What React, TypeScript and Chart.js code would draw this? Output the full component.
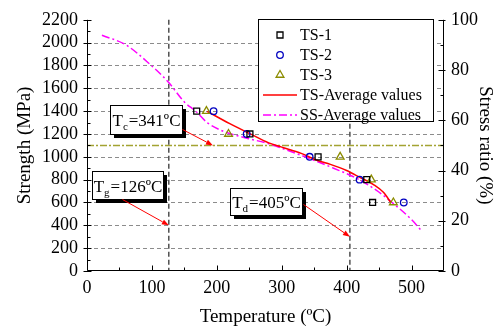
import React, { useEffect, useRef } from 'react';
import { Chart, registerables } from 'chart.js';

Chart.register(...registerables);

const FONT = "'Liberation Serif', 'Times New Roman', serif";
Chart.defaults.font.family = FONT;
Chart.defaults.color = '#000';

// ---- data ----
const xTicks = [0, 100, 200, 300, 400, 500];
const strengthTicks = [0, 200, 400, 600, 800, 1000, 1200, 1400, 1600, 1800, 2000, 2200];
const ratioTicks = [0, 20, 40, 60, 80, 100];

const ts1Temp = [169, 251, 356, 431, 440];
const ts1Strength = [1400, 1200, 1000, 800, 600];
const ts2Temp = [195, 246, 343, 420, 488];
const ts2Strength = [1400, 1200, 1000, 800, 600];
const ts3Temp = [184, 218, 390, 438, 472];
const ts3Strength = [1400, 1200, 1000, 800, 600];

const tsAvgTemp = [185, 220, 250, 280, 300, 330, 354, 375, 400, 421, 442, 457, 468];
const tsAvgStrength = [1398, 1290, 1205, 1122, 1085, 1030, 970, 934, 880, 818, 755, 687, 600];

const ssAvgTemp = [23, 60, 97, 126, 150, 168, 185, 214, 245, 280, 310, 343, 380, 416, 445, 473, 500, 515];
const ssAvgStrength = [2065, 1980, 1810, 1650, 1480, 1397, 1300, 1215, 1165, 1115, 1055, 985, 900, 810, 710, 586, 450, 354];

const seriesLabels = ['TS-1', 'TS-2', 'TS-3', 'TS-Average values', 'SS-Average values'];

const refTemps = [126, 405];
const refStrength = 1100;

const noteSubs = ['c', 'g', 'd'];
const noteTexts = ['=341ºC', '=126ºC', '=405ºC'];
const noteTipTemp = [194, 126, 405];
const noteTipStrength = [1100, 400, 300];

const pts = (xs: number[], ys: number[]) => xs.map((v, i) => ({ x: v, y: ys[i] }));

// ---- drawing helpers ----
function seg(ctx: CanvasRenderingContext2D, x1: number, y1: number, x2: number, y2: number) {
  ctx.beginPath();
  ctx.moveTo(x1, y1);
  ctx.lineTo(x2, y2);
  ctx.stroke();
}

function arrow(ctx: CanvasRenderingContext2D, x1: number, y1: number, x2: number, y2: number) {
  ctx.save();
  ctx.strokeStyle = '#ff0000';
  ctx.fillStyle = '#ff0000';
  ctx.lineWidth = 1;
  ctx.setLineDash([]);
  const ang = Math.atan2(y2 - y1, x2 - x1);
  const len = 7, hw = 2.6;
  const bx = x2 - Math.cos(ang) * len, by = y2 - Math.sin(ang) * len;
  seg(ctx, x1, y1, bx, by);
  ctx.beginPath();
  ctx.moveTo(x2, y2);
  ctx.lineTo(bx + Math.sin(ang) * hw, by - Math.cos(ang) * hw);
  ctx.lineTo(bx - Math.sin(ang) * hw, by + Math.cos(ang) * hw);
  ctx.closePath();
  ctx.fill();
  ctx.restore();
}

function marker(ctx: CanvasRenderingContext2D, style: string, cx: number, cy: number, color: string) {
  ctx.save();
  ctx.strokeStyle = color;
  ctx.lineWidth = 1.3;
  ctx.setLineDash([]);
  ctx.beginPath();
  if (style === 'rect') {
    ctx.rect(cx - 3, cy - 3, 6, 6);
  } else if (style === 'circle') {
    ctx.arc(cx, cy, 3.3, 0, Math.PI * 2);
  } else {
    const r = 4.5;
    ctx.moveTo(cx, cy - r);
    ctx.lineTo(cx - r * 0.866, cy + r * 0.5);
    ctx.lineTo(cx + r * 0.866, cy + r * 0.5);
    ctx.closePath();
  }
  ctx.stroke();
  ctx.restore();
}

// note boxes layout (pixel sizes, anchored in data coords)
const noteLayout = [
  { ax: 36, ay: 1452, w: 72, h: 29, start: (b: any) => [b.r, b.t + 24] },
  { ax: 8, ay: 873, w: 71, h: 28, start: (b: any) => [b.l + 30, b.b] },
  { ax: 220, ay: 723, w: 72, h: 27, start: (b: any) => [b.r + 1, b.t + 16] },
];

const decorPlugin = {
  id: 'decor',
  beforeDatasetsDraw(chart: any) {
    const { ctx, chartArea: a } = chart;
    const x = chart.scales.x, y = chart.scales.y;
    ctx.save();
    ctx.lineWidth = 1;
    ctx.strokeStyle = '#8c8c8c';
    ctx.setLineDash([4, 3]);
    strengthTicks.forEach((v) => {
      if (v <= 0 || v >= 2200) return;
      const py = Math.round(y.getPixelForValue(v)) + 0.5;
      seg(ctx, a.left, py, a.right, py);
    });
    ctx.strokeStyle = '#a3a332';
    ctx.lineWidth = 1.5;
    ctx.setLineDash([7, 2, 2, 2]);
    const ry = y.getPixelForValue(refStrength);
    seg(ctx, a.left, ry, a.right, ry);
    ctx.strokeStyle = '#505050';
    ctx.lineWidth = 1.5;
    ctx.setLineDash([5, 3]);
    refTemps.forEach((t) => {
      const px = x.getPixelForValue(t);
      seg(ctx, px, a.top, px, a.bottom);
    });
    ctx.restore();
  },
  afterDatasetsDraw(chart: any) {
    const { ctx, chartArea: a } = chart;
    const x = chart.scales.x, y = chart.scales.y, y1 = chart.scales.y1;
    const L = Math.round(a.left) + 0.5, R = Math.round(a.right) - 0.5, B = Math.round(a.bottom) - 0.5;
    ctx.save();
    ctx.strokeStyle = '#000';
    ctx.lineWidth = 1;
    ctx.setLineDash([]);
    seg(ctx, L, a.top, L, B);
    seg(ctx, L, B, R, B);
    seg(ctx, R, a.top, R, B);
    xTicks.forEach((v) => {
      const px = Math.round(x.getPixelForValue(v)) + 0.5;
      seg(ctx, px, B, px, B - 5);
      const m = v + 50;
      if (m < 550) {
        const pm = Math.round(x.getPixelForValue(m)) + 0.5;
        seg(ctx, pm, B, pm, B - 3);
      }
    });
    strengthTicks.forEach((v, i) => {
      const py = Math.round(y.getPixelForValue(v)) + 0.5;
      seg(ctx, L - 4, py, L + 4, py);
      if (i < strengthTicks.length - 1) {
        const pm = Math.round(y.getPixelForValue((v + strengthTicks[i + 1]) / 2)) + 0.5;
        seg(ctx, L, pm, L + 3, pm);
      }
    });
    ratioTicks.forEach((v, i) => {
      const py = Math.round(y1.getPixelForValue(v)) + 0.5;
      seg(ctx, R - 5, py, R + 2, py);
      if (i < ratioTicks.length - 1) {
        const pm = Math.round(y1.getPixelForValue((v + ratioTicks[i + 1]) / 2)) + 0.5;
        seg(ctx, R - 3, pm, R, pm);
      }
    });
    ctx.restore();
  },
  afterDraw(chart: any) {
    const { ctx } = chart;
    const x = chart.scales.x, y = chart.scales.y;
    ctx.save();
    noteLayout.forEach((n, i) => {
      const l = Math.round(x.getPixelForValue(n.ax)) + 0.5;
      const t = Math.round(y.getPixelForValue(n.ay)) + 0.5;
      const b = { l, t, r: l + n.w, b: t + n.h };
      ctx.fillStyle = '#000';
      ctx.fillRect(l + 3.5, t + 3.5, n.w, n.h);
      ctx.fillStyle = '#fff';
      ctx.fillRect(l, t, n.w, n.h);
      ctx.strokeStyle = '#000';
      ctx.lineWidth = 1;
      ctx.setLineDash([]);
      ctx.strokeRect(l, t, n.w, n.h);
      const big = `17px ${FONT}`, small = `11px ${FONT}`;
      ctx.font = big;
      const wT = ctx.measureText('T').width;
      const wR = ctx.measureText(noteTexts[i]).width;
      ctx.font = small;
      const wS = ctx.measureText(noteSubs[i]).width + 1;
      const total = wT + wS + wR;
      let cx = l + (n.w - total) / 2;
      const base = t + n.h / 2 + 6;
      ctx.fillStyle = '#000';
      ctx.textBaseline = 'alphabetic';
      ctx.textAlign = 'left';
      ctx.font = big;
      ctx.fillText('T', cx, base);
      cx += wT;
      ctx.font = small;
      ctx.fillText(noteSubs[i], cx, base + 4);
      cx += wS;
      ctx.font = big;
      ctx.fillText(noteTexts[i], cx, base);
      const [sx, sy] = n.start(b);
      arrow(ctx, sx, sy, x.getPixelForValue(noteTipTemp[i]), y.getPixelForValue(noteTipStrength[i]));
    });
    const lg = { l: 258.5, t: 19.5, w: 175, h: 102 };
    ctx.fillStyle = '#fff';
    ctx.fillRect(lg.l, lg.t, lg.w, lg.h);
    ctx.strokeStyle = '#000';
    ctx.lineWidth = 1;
    ctx.setLineDash([]);
    ctx.strokeRect(lg.l, lg.t, lg.w, lg.h);
    chart.data.datasets.forEach((ds: any, i: number) => {
      const cy = 35 + i * 20;
      if (ds.showLine) {
        ctx.save();
        ctx.strokeStyle = ds.borderColor;
        ctx.lineWidth = ds.borderWidth;
        ctx.setLineDash(ds.borderDash || []);
        seg(ctx, 263, cy, 297, cy);
        ctx.restore();
      } else {
        marker(ctx, ds.pointStyle, 280, cy, ds.pointBorderColor);
      }
      ctx.fillStyle = '#000';
      ctx.font = `16px ${FONT}`;
      ctx.textBaseline = 'middle';
      ctx.textAlign = 'left';
      ctx.fillText(ds.label, 300, cy + 1);
    });
    ctx.restore();
  },
};

export default function App() {
  const ref = useRef<HTMLCanvasElement>(null);
  useEffect(() => {
    const canvas = ref.current!;
    const tickFont = { family: FONT, size: 18 };
    const titleFont = { family: FONT, size: 19, lineHeight: 1 };
    const plain = (v: any) => String(v);
    const markerDs = (label: string, xs: number[], ys: number[], style: string, color: string, r: number) => ({
      label,
      data: pts(xs, ys),
      showLine: false,
      pointStyle: style,
      pointRadius: r,
      pointBorderColor: color,
      pointBackgroundColor: 'rgba(0,0,0,0)',
      pointBorderWidth: 1.3,
      borderColor: color,
      order: 0,
    });
    const chart = new Chart(canvas, {
      type: 'scatter',
      data: {
        datasets: [
          markerDs(seriesLabels[0], ts1Temp, ts1Strength, 'rect', '#000000', 4.2),
          markerDs(seriesLabels[1], ts2Temp, ts2Strength, 'circle', '#0000c0', 3.3),
          markerDs(seriesLabels[2], ts3Temp, ts3Strength, 'triangle', '#8c8c00', 4.5),
          {
            label: seriesLabels[3],
            data: pts(tsAvgTemp, tsAvgStrength),
            showLine: true,
            borderColor: '#ff0000',
            borderWidth: 1.5,
            pointRadius: 0,
            cubicInterpolationMode: 'monotone',
            fill: false,
            order: 1,
          },
          {
            label: seriesLabels[4],
            data: pts(ssAvgTemp, ssAvgStrength),
            showLine: true,
            borderColor: '#ff00ff',
            borderWidth: 1.5,
            borderDash: [8, 3, 2, 3],
            pointRadius: 0,
            cubicInterpolationMode: 'monotone',
            fill: false,
            order: 1,
          },
        ] as any,
      },
      options: {
        responsive: false,
        animation: false,
        devicePixelRatio: 1,
        layout: { padding: { top: 17, left: 0, right: 0, bottom: 0 } },
        plugins: { legend: { display: false }, tooltip: { enabled: false } },
        scales: {
          x: {
            type: 'linear',
            min: 0,
            max: 550,
            afterBuildTicks: (s: any) => { s.ticks = xTicks.map((v) => ({ value: v })); },
            afterFit: (s: any) => { s.height = 56; },
            grid: { display: false, drawTicks: false },
            border: { display: false },
            ticks: { font: tickFont, color: '#000', padding: 6, maxRotation: 0, autoSkip: false, callback: plain },
            title: { display: true, text: 'Temperature (ºC)', font: titleFont, color: '#000', padding: { top: 0, bottom: 0 } },
          },
          y: {
            type: 'linear',
            position: 'left',
            min: 0,
            max: 2200,
            afterBuildTicks: (s: any) => { s.ticks = strengthTicks.map((v) => ({ value: v })); },
            afterFit: (s: any) => { s.width = 87; },
            grid: { display: false, drawTicks: false },
            border: { display: false },
            ticks: { font: tickFont, color: '#000', padding: 9, autoSkip: false, callback: plain },
            title: { display: true, text: 'Strength (MPa)', font: titleFont, color: '#000', padding: { top: 16, bottom: 0 } },
          },
          y1: {
            type: 'linear',
            position: 'right',
            min: 0,
            max: 100,
            afterBuildTicks: (s: any) => { s.ticks = ratioTicks.map((v) => ({ value: v })); },
            afterFit: (s: any) => { s.width = 50; },
            grid: { display: false, drawTicks: false },
            border: { display: false },
            ticks: { font: tickFont, color: '#000', padding: 7, autoSkip: false, callback: plain },
            title: { display: true, text: 'Stress ratio (%)', font: titleFont, color: '#000', padding: { top: 0, bottom: 0 } },
          },
        },
      } as any,
      plugins: [decorPlugin],
    });
    return () => chart.destroy();
  }, []);
  return (
    <canvas
      ref={ref}
      width={494}
      height={327}
      style={{ position: 'absolute', left: 0, top: 0, display: 'block', width: 494, height: 327 }}
    />
  );
}
